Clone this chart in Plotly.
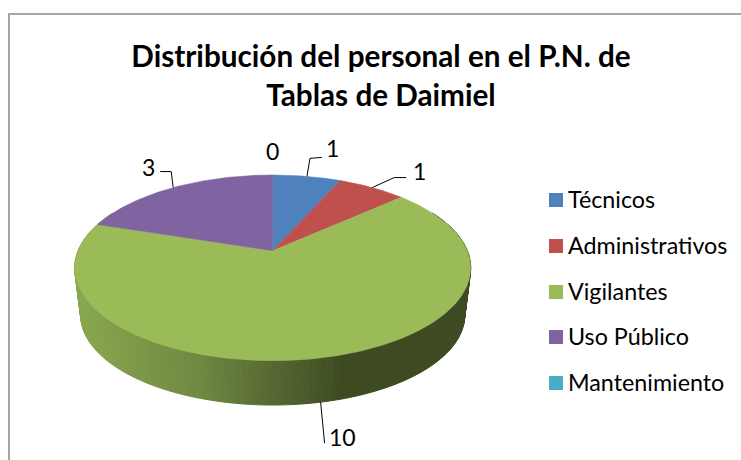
import numpy as np
import plotly.graph_objects as go

categories = ["Técnicos", "Administrativos", "Vigilantes", "Uso Público", "Mantenimiento"]
values = [1, 1, 10, 3, 0]
colors = ["#4f81bd", "#c0504d", "#9bbb59", "#8064a2", "#4bacc6"]
title_text = "Distribución del personal en el P.N. de<br>Tablas de Daimiel"

W, H = 741, 460
FONT = "Lato"
cx, cy = 272.7, 250.7      # apex of the pie in the picture
A, B, K = 194.6, 89.7, 0.1847   # perspective of the tilted disc
SCALE, DROP = 0.97, 47.6        # lower rim of the disc


def top(theta):
    t = np.radians(theta)
    d = 1 + K * np.cos(t)
    return cx + A * np.sin(t) / d, cy - B * np.cos(t) / d


def low(theta):
    t = np.radians(theta)
    d = 1 + K * np.cos(t)
    return cx + SCALE * A * np.sin(t) / d, cy + DROP - SCALE * B * np.cos(t) / d


def mix(x):
    stops_x = [75, 200, 343, 480]
    r = np.interp(x, stops_x, [0x8a, 0x6f, 0x3e, 0x3e])
    g = np.interp(x, stops_x, [0xa8, 0x88, 0x4a, 0x4a])
    b = np.interp(x, stops_x, [0x50, 0x42, 0x22, 0x22])
    return f"rgb({r:.0f},{g:.0f},{b:.0f})"


fig = go.Figure()
total = sum(values)
ends = np.cumsum(values) / total * 360
starts = np.concatenate([[0], ends[:-1]])

# side wall, in thin bands so that it carries the horizontal shading
for s, e, v in zip(starts, ends, values):
    if v == 0:
        continue
    edges = np.arange(s, e, 1.5)
    edges = np.append(edges, e)
    for a0, a1 in zip(edges[:-1], edges[1:]):
        mid = (a0 + a1) / 2
        if np.cos(np.radians(mid)) > 0.45:
            continue
        tx0, ty0 = top(a0)
        tx1, ty1 = top(a1)
        lx0, ly0 = low(a0)
        lx1, ly1 = low(a1)
        col = mix((tx0 + tx1 + lx0 + lx1) / 4)
        fig.add_trace(go.Scatter(
            x=[tx0, tx1, lx1, lx0, tx0], y=[ty0, ty1, ly1, ly0, ty0],
            mode="lines", fill="toself", fillcolor=col,
            line=dict(color=col, width=1), hoverinfo="skip", showlegend=False))

# upper faces
for s, e, v, c, name in zip(starts, ends, values, colors, categories):
    if v == 0:
        continue
    th = np.linspace(s, e, max(int(e - s) * 2, 8))
    x, y = top(th)
    fig.add_trace(go.Scatter(
        x=np.concatenate([[cx], x, [cx]]), y=np.concatenate([[cy], y, [cy]]),
        mode="lines", fill="toself", fillcolor=c, line=dict(color=c, width=0.5),
        name=name, showlegend=False, hovertemplate=f"{name}: {v}<extra></extra>"))

# leader lines and data labels
mids = (starts + ends) / 2
label_offsets = [(26, -28), (47, -17), None, (-25, -21), (0, -24)]
elbows = [[(3, -18), (15, -19)], [(22, -10), (34, -10)], None,
          [(-2, -16), (-13, -16)], None]
for i, (v, m) in enumerate(zip(values, mids)):
    if categories[i] == "Vigilantes":
        ax, ay = low(m)
        lx, ly = [ax, ax + 4], [ay, ay + 41]
        tx, ty = ax + 22, ay + 35
    else:
        ax, ay = top(m)
        off = label_offsets[i]
        tx, ty = ax + off[0], ay + off[1]
        lx, ly = [ax], [ay]
        if elbows[i]:
            lx += [ax + p[0] for p in elbows[i]]
            ly += [ay + p[1] for p in elbows[i]]
    if len(lx) > 1:
        fig.add_trace(go.Scatter(x=lx, y=ly, mode="lines", line=dict(color="black", width=1),
                                 hoverinfo="skip", showlegend=False))
    fig.add_annotation(x=tx, y=ty, text=str(v), showarrow=False,
                       font=dict(family=FONT, size=23, color="black"))

# legend
legend_y = [200, 246, 292, 337, 383]
fig.add_trace(go.Scatter(
    x=[556] * len(categories), y=legend_y, mode="markers",
    marker=dict(symbol="square", size=14, color=colors, line=dict(width=0)),
    hoverinfo="skip", showlegend=False))
for name, y in zip(categories, legend_y):
    fig.add_annotation(x=566, y=y - 1, text=name, xanchor="left", showarrow=False,
                       font=dict(family=FONT, size=23.3, color="black"))

fig.update_layout(
    width=W, height=H, margin=dict(l=0, r=0, t=0, b=0),
    autosize=False,
    paper_bgcolor="white", plot_bgcolor="white", showlegend=False,
    title=dict(text=title_text, x=381 / W, xanchor="center", y=1 - 67 / H, yanchor="top",
               font=dict(family=FONT, size=29.7, color="black", weight="bold")),
    xaxis=dict(range=[0, W], visible=False, fixedrange=True),
    yaxis=dict(range=[H, 0], visible=False, fixedrange=True),
    shapes=[dict(type="rect", x0=9, y0=14, x1=W + 6, y1=H + 6,
                 line=dict(color="#a6a6a6", width=2), layer="below")],
)
fig.write_html("out.html", config=dict(displayModeBar=False),
               post_script="document.body.style.margin='0';document.body.style.overflow='hidden';")
